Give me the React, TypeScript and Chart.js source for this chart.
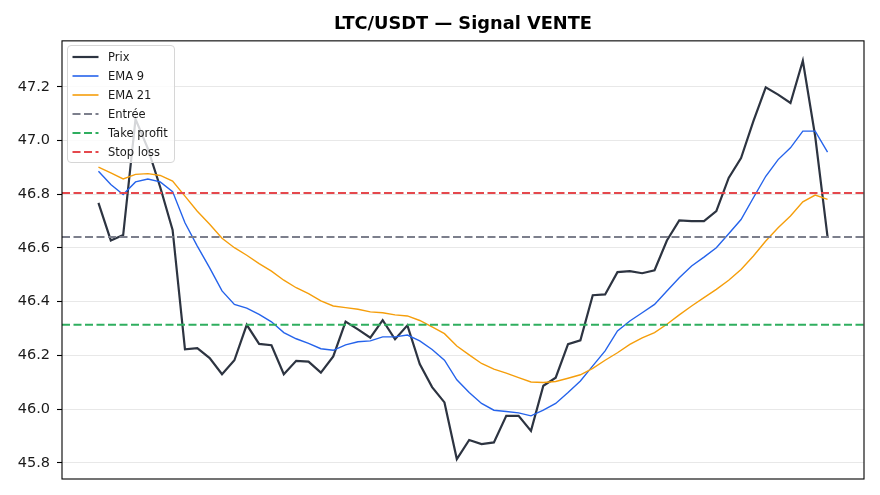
import { useEffect, useRef } from "react";
import Chart from "chart.js/auto";
import type { Chart as ChartInstance, Plugin } from "chart.js";

const title = "LTC/USDT — Signal VENTE";

// closing prices, one per candle (index 0..59)
const price = [
    46.768, 46.628, 46.648, 47.08, 46.97, 46.826, 46.667, 46.223, 46.227, 46.19,
    46.13, 46.182, 46.314, 46.243, 46.238, 46.13, 46.18, 46.177, 46.136, 46.196,
    46.326, 46.297, 46.266, 46.331, 46.26, 46.312, 46.168, 46.082, 46.025, 45.814,
    45.885, 45.87, 45.876, 45.975, 45.975, 45.919, 46.087, 46.117, 46.242, 46.256,
    46.424, 46.427, 46.51, 46.514, 46.506, 46.517, 46.628, 46.703, 46.7, 46.7,
    46.737, 46.861, 46.935, 47.072, 47.198, 47.171, 47.14, 47.297, 47.016, 46.641,
];

const ema9 = [
    46.886, 46.836, 46.799, 46.846, 46.857, 46.846, 46.81, 46.694, 46.607, 46.526,
    46.44, 46.39, 46.376, 46.353, 46.325, 46.285, 46.262, 46.245, 46.225, 46.219,
    46.239, 46.251, 46.254, 46.269, 46.269, 46.276, 46.254, 46.222, 46.182, 46.109,
    46.062, 46.021, 45.996, 45.991, 45.986, 45.975, 45.996, 46.021, 46.062, 46.105,
    46.161, 46.217, 46.291, 46.328, 46.359, 46.39, 46.44, 46.489, 46.533, 46.566,
    46.601, 46.653, 46.706, 46.787, 46.867, 46.929, 46.973, 47.035, 47.035, 46.957,
];

const ema21 = [
    46.901, 46.88, 46.857, 46.874, 46.877, 46.87, 46.849, 46.793, 46.737, 46.688,
    46.636, 46.601, 46.573, 46.542, 46.514, 46.48, 46.452, 46.43, 46.403, 46.384,
    46.378, 46.372, 46.362, 46.359, 46.351, 46.347, 46.33, 46.306, 46.281, 46.235,
    46.202, 46.17, 46.149, 46.134, 46.117, 46.101, 46.099, 46.103, 46.115, 46.128,
    46.152, 46.182, 46.21, 46.241, 46.265, 46.285, 46.316, 46.351, 46.384, 46.415,
    46.446, 46.48, 46.52, 46.57, 46.626, 46.675, 46.719, 46.772, 46.797, 46.781,
];

const entry = 46.641;
const takeProfit = 46.314;
const stopLoss = 46.805;

const yTicks = [45.8, 46.0, 46.2, 46.4, 46.6, 46.8, 47.0, 47.2];

const FONT = "'DejaVu Sans', sans-serif";

const series = [
    { label: "Prix", color: "#2d3441", width: 2.2, dash: [] as number[] },
    { label: "EMA 9", color: "#2563eb", width: 1.4, dash: [] as number[] },
    { label: "EMA 21", color: "#f59e0b", width: 1.4, dash: [] as number[] },
    { label: "Entrée", color: "#7c7f8c", width: 2, dash: [8, 3.5] },
    { label: "Take profit", color: "#2fae5f", width: 2, dash: [8, 3.5] },
    { label: "Stop loss", color: "#e5484d", width: 2, dash: [8, 3.5] },
];

// matplotlib-like 5% margins
const n = price.length;
const xMin = -(n - 1) * 0.05;
const xMax = n - 1 + (n - 1) * 0.05;
const allY = [...price, ...ema9, ...ema21, entry, takeProfit, stopLoss];
const yLo = Math.min(...allY);
const yHi = Math.max(...allY);
const yMin = yLo - (yHi - yLo) * 0.05;
const yMax = yHi + (yHi - yLo) * 0.05;

const toPts = (arr: number[]) => arr.map((y, x) => ({ x, y }));
const hline = (y: number) => [{ x: xMin, y }, { x: xMax, y }];

// black box round the plot area, like matplotlib spines
// + centre the title over the plot area instead of the whole canvas
const framePlugin: Plugin<"line"> = {
    id: "frame",
    afterLayout(chart) {
        const tb = (chart as any).titleBlock;
        if (tb) {
            tb.left = chart.chartArea.left;
            tb.right = chart.chartArea.right;
        }
    },
    afterDatasetsDraw(chart) {
        const { ctx, chartArea: a } = chart;
        ctx.save();
        ctx.strokeStyle = "#000";
        ctx.lineWidth = 1.1;
        ctx.strokeRect(a.left, a.top, a.right - a.left, a.bottom - a.top);
        ctx.restore();
    },
};

function Legend() {
    return (
        <div
            style={{
                position: "absolute",
                left: 67,
                top: 45,
                width: 108,
                height: 118,
                boxSizing: "border-box",
                border: "1px solid #d6d6d6",
                borderRadius: 4,
                background: "rgba(255,255,255,0.8)",
                fontFamily: FONT,
                fontSize: 11.5,
                color: "#1a1a1a",
                paddingTop: 1,
            }}
        >
            {series.map((s) => (
                <div key={s.label} style={{ display: "flex", alignItems: "center", height: 19.1 }}>
                    <svg width={40} height={10} style={{ flex: "none" }}>
                        <line
                            x1={4.5}
                            x2={30.5}
                            y1={5}
                            y2={5}
                            stroke={s.color}
                            strokeWidth={s.width === 1.4 ? 1.6 : 2.2}
                            strokeDasharray={s.dash.length ? s.dash.join(" ") : undefined}
                        />
                    </svg>
                    <span style={{ whiteSpace: "nowrap" }}>{s.label}</span>
                </div>
            ))}
        </div>
    );
}

export default function App() {
    const canvasRef = useRef<HTMLCanvasElement>(null);
    const chartRef = useRef<ChartInstance | null>(null);

    useEffect(() => {
        document.body.style.margin = "0";
        if (!canvasRef.current) return;
        const ctx = canvasRef.current.getContext("2d");
        if (!ctx) return;

        const values = [toPts(price), toPts(ema9), toPts(ema21), hline(entry), hline(takeProfit), hline(stopLoss)];

        chartRef.current = new Chart(ctx, {
            type: "line",
            data: {
                datasets: series.map((s, i) => ({
                    label: s.label,
                    data: values[i],
                    borderColor: s.color,
                    borderWidth: s.width,
                    borderDash: s.dash,
                    pointRadius: 0,
                    tension: 0,
                    fill: false,
                    order: series.length - i,
                })),
            },
            options: {
                animation: false,
                responsive: true,
                maintainAspectRatio: false,
                layout: { padding: { left: 0, right: 16, bottom: 16, top: 0 } },
                scales: {
                    x: {
                        type: "linear",
                        min: xMin,
                        max: xMax,
                        display: false,
                    },
                    y: {
                        min: yMin,
                        max: yMax,
                        afterBuildTicks: (scale) => {
                            scale.ticks = yTicks.map((value) => ({ value }));
                        },
                        afterFit: (scale) => {
                            scale.width = 62;
                        },
                        border: { display: false },
                        grid: {
                            color: "#e8e8e8",
                            lineWidth: 1,
                            tickColor: "#000",
                            tickLength: 5,
                            tickWidth: 1.1,
                        },
                        ticks: {
                            color: "#1a1a1a",
                            padding: 7,
                            font: { family: FONT, size: 14.5 },
                            callback: (v) => Number(v).toFixed(1),
                        },
                    },
                },
                plugins: {
                    legend: { display: false },
                    tooltip: { enabled: false },
                    title: {
                        display: true,
                        text: title,
                        color: "#000",
                        font: { family: FONT, size: 17.8, weight: "bold" },
                        padding: { top: 14, bottom: 5.5 },
                    },
                },
            },
            plugins: [framePlugin],
        });

        return () => {
            if (chartRef.current) {
                chartRef.current.destroy();
            }
        };
    }, []);

    return (
        <div style={{ position: "relative", width: 880, height: 495, background: "#fff" }}>
            <canvas ref={canvasRef} style={{ width: "100%", height: "100%" }} />
            <Legend />
        </div>
    );
}
